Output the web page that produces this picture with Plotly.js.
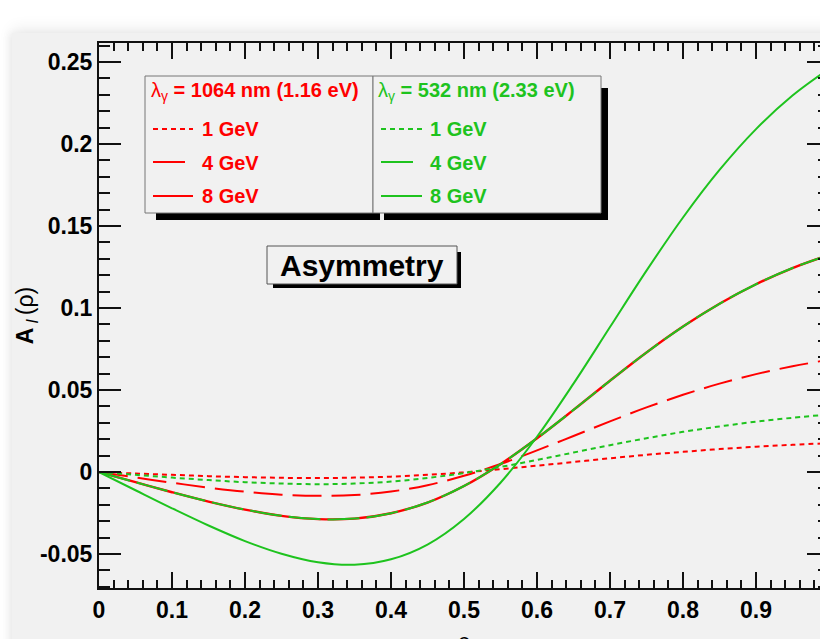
<!DOCTYPE html>
<html><head><meta charset="utf-8">
<script src="https://cdn.plot.ly/plotly-3.0.1.min.js"></script>
<style>
html,body{margin:0;padding:0;background:#fff;overflow:hidden;width:820px;height:639px;}
#wrap{position:absolute;left:12px;top:33px;width:830px;height:640px;background:#f1f1f1;box-shadow:0 -5px 14px rgba(0,0,0,0.07),-3px 0 8px rgba(0,0,0,0.05);}
#chart{width:830px;height:640px;}
</style></head><body><div id="wrap"><div id="chart"></div></div>
<script>
// rho values
const rho = [0,0.05,0.1,0.15,0.2,0.25,0.3,0.35,0.4,0.45,0.5,0.55,0.6,0.65,0.7,0.75,0.8,0.85,0.9,0.95,1.0];
// lambda = 1064 nm
const red1GeV = [0,-0.0009,-0.0017,-0.0025,-0.0031,-0.0035,-0.0037,-0.0034,-0.0028,-0.0017,-0.0002,0.0017,0.0039,0.0061,0.0084,0.0105,0.0123,0.0140,0.0154,0.0166,0.0176];
const red4GeV = [0,-0.0033,-0.0065,-0.0095,-0.0120,-0.0138,-0.0145,-0.0140,-0.0119,-0.0080,-0.0023,0.0049,0.0132,0.0220,0.0309,0.0394,0.0471,0.0539,0.0597,0.0645,0.0685];
const red8GeV = [0,-0.0062,-0.0123,-0.0180,-0.0229,-0.0267,-0.0287,-0.0284,-0.0251,-0.0186,-0.0085,0.0048,0.0206,0.0379,0.0557,0.0729,0.0887,0.1026,0.1145,0.1244,0.1324];
// lambda = 532 nm
const green1GeV = [0,-0.0017,-0.0034,-0.0049,-0.0062,-0.0070,-0.0074,-0.0070,-0.0058,-0.0036,-0.0006,0.0031,0.0074,0.0119,0.0164,0.0206,0.0245,0.0278,0.0307,0.0331,0.0351];
const green4GeV = [0,-0.0062,-0.0123,-0.0180,-0.0229,-0.0267,-0.0287,-0.0284,-0.0251,-0.0186,-0.0085,0.0048,0.0206,0.0379,0.0557,0.0729,0.0887,0.1026,0.1145,0.1244,0.1324];
const green8GeV = [0,-0.0111,-0.0221,-0.0326,-0.0421,-0.0498,-0.0550,-0.0565,-0.0532,-0.0442,-0.0286,-0.0065,0.0215,0.0539,0.0884,0.1228,0.1552,0.1842,0.2091,0.2296,0.2459];

const xTickVals = [0,0.1,0.2,0.3,0.4,0.5,0.6,0.7,0.8,0.9];
const xTickText = ['0','0.1','0.2','0.3','0.4','0.5','0.6','0.7','0.8','0.9'];
const yTickVals = [-0.05,0,0.05,0.1,0.15,0.2,0.25];
const yTickText = ['-0.05','0','0.05','0.1','0.15','0.2','0.25'];

const legendLeftTitle = 'λ<sub>γ</sub><b> = 1064 nm (1.16 eV)</b>';
const legendRightTitle = 'λ<sub>γ</sub><b> = 532 nm (2.33 eV)</b>';
const energyLabels = ['1 GeV','4 GeV','8 GeV'];
const boxTitle = 'Asymmetry';

const RED = '#ff0000', GREEN = '#1ec31e', FONT = 'Liberation Sans, Arial, Helvetica, sans-serif';
const DOT = '5px,4px', LONG = '29px,10px';

function tr(y, color, dash, width){
  return {x: rho, y: y, type:'scatter', mode:'lines', line:{color:color, width:width||2, dash:dash, shape:'spline', smoothing:1}, hoverinfo:'skip'};
}
const data = [
  tr(red1GeV, RED, DOT),
  tr(red4GeV, RED, LONG),
  tr(red8GeV, RED, 'solid', 2.4),
  tr(green1GeV, GREEN, DOT),
  tr(green4GeV, GREEN, '32px,7px'),
  tr(green8GeV, GREEN, 'solid')
];

// pixel (page) -> paper helpers for legend decorations
const PX0=99, PX1=829, PY0=43, PY1=588;
const fx = p => (p-PX0)/(PX1-PX0);
const fy = p => (PY1-p)/(PY1-PY0);
function rect(x0,y0,x1,y1,fill,line){return {type:'rect',xref:'paper',yref:'paper',x0:fx(x0),x1:fx(x1),y0:fy(y1),y1:fy(y0),fillcolor:fill,line:{color:line||fill,width:line?1:0},layer:'above'};}
function seg(x0,x1,y,color,dash){return {type:'line',xref:'paper',yref:'paper',x0:fx(x0),x1:fx(x1),y0:fy(y),y1:fy(y),line:{color:color,width:2,dash:dash},layer:'above'};}
function txt(x,y,text,color,size,anchor){return {xref:'paper',yref:'paper',x:fx(x),y:fy(y),text:text,showarrow:false,xanchor:anchor||'left',yanchor:'middle',font:{family:FONT,size:size,color:color}};}

const shapes = [
  rect(156,88,380,220,'#000'),
  rect(145,76,373,213,'#f1f1f1','#777'),
  rect(384,88,608,220,'#000'),
  rect(373,76,601,213,'#f1f1f1','#777'),
  seg(153,193,129,RED,DOT), seg(153,185,162,RED,'solid'), seg(153,193,196,RED,'solid'),
  seg(381,422,129,GREEN,DOT), seg(381,413,162,GREEN,'solid'), seg(381,422,196,GREEN,'solid'),
  rect(273,252,461,288,'#000'),
  rect(267,246,457,284,'#f1f1f1','#555')
];
const annotations = [
  txt(149,91,legendLeftTitle,RED,20),
  txt(376,91,legendRightTitle,GREEN,20),
  txt(200,129,'<b>'+energyLabels[0]+'</b>',RED,20),
  txt(200,163,'<b>'+energyLabels[1]+'</b>',RED,20),
  txt(200,196,'<b>'+energyLabels[2]+'</b>',RED,20),
  txt(428,129,'<b>'+energyLabels[0]+'</b>',GREEN,20),
  txt(428,163,'<b>'+energyLabels[1]+'</b>',GREEN,20),
  txt(428,196,'<b>'+energyLabels[2]+'</b>',GREEN,20),
  txt(362,266,'<b>'+boxTitle+'</b>','#000',30,'center')
];

const axisCommon = {showline:true, linecolor:'#111', linewidth:2, mirror:'ticks', ticks:'inside', tickwidth:2, tickcolor:'#111', showgrid:false, zeroline:false, tickmode:'array',
  tickfont:{family:FONT,size:23,color:'#000',weight:'bold'}};
const layout = {
  width:830, height:640,
  margin:{l:87,r:13,t:10,b:85},
  paper_bgcolor:'#f1f1f1', plot_bgcolor:'#f1f1f1', showlegend:false,
  xaxis:Object.assign({}, axisCommon, {range:[0,1], tickvals:xTickVals, ticktext:xTickText, ticklen:16,
    minor:{ticks:'inside', ticklen:8, tickwidth:2, tickcolor:'#111', dtick:0.02, tick0:0, showgrid:false},
    title:{text:'ρ', font:{family:FONT,size:24,color:'#000'}, standoff:12}}),
  yaxis:Object.assign({}, axisCommon, {range:[-0.0707,0.2616], tickvals:yTickVals, ticktext:yTickText, ticklen:22,
    minor:{ticks:'inside', ticklen:11, tickwidth:2, tickcolor:'#111', dtick:0.01, tick0:0, showgrid:false},
    title:{text:'<b>A</b><sub> <i>l</i> </sub>(ρ)', font:{family:FONT,size:23,color:'#000'}, standoff:3}}),
  shapes:shapes, annotations:annotations
};
Plotly.newPlot('chart', data, layout, {staticPlot:true, displayModeBar:false});
</script></body></html>
